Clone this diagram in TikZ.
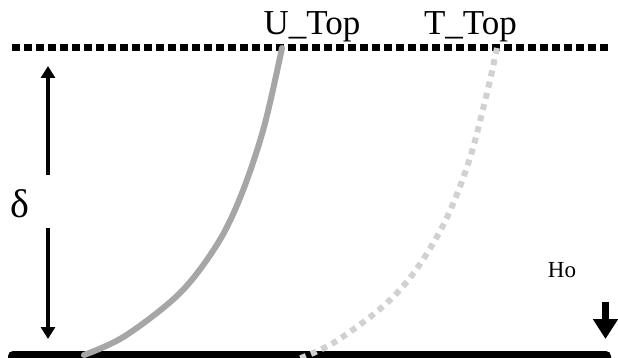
\documentclass[tikz,border=0pt]{standalone}
\usepackage{fontspec}
\setmainfont{Liberation Serif}
\usetikzlibrary{arrows.meta}
\begin{document}
\begin{tikzpicture}[x=1pt,y=-1pt,
  lbl/.style={inner sep=0pt,anchor=base,font=\fontsize{35}{40}\selectfont},
  dimarrow/.style={line width=3.3pt,-{Stealth[length=12pt,width=14pt,inset=0pt]}},
  ucurve/.style={line width=6pt,color=black!35,line cap=round},
  tcurve/.style={line width=6pt,color=black!18,dash pattern=on 6pt off 5.5pt},
  topline/.style={line width=7pt,dash pattern=on 7.5pt off 4.5pt}]
\useasboundingbox (0,0) rectangle (618,358);
\begin{scope}
\clip (0,0) rectangle (618,358);
\fill[black,rounded corners=5pt] (8,351) rectangle (611,372);
\end{scope}
\draw[topline] (12,48) -- (612,48);
\node[lbl] (utop) at (312,35) {U\_Top};
\node[lbl] (ttop) at (470.5,35) {T\_Top};
\node[inner sep=0pt,anchor=base,font=\fontsize{23}{26}\selectfont] (ho) at (562,277) {Ho};
\node[inner sep=0pt,anchor=base,font=\fontsize{40}{44}\selectfont] (delta) at (20,217) {δ};
\coordinate (a1s) at (48,175);
\coordinate (a1e) at (48,66);
\coordinate (a2s) at (48,228);
\coordinate (a2e) at (48,339);
\draw[dimarrow] (a1s) -- (a1e);
\draw[dimarrow] (a2s) -- (a2e);
\coordinate (h1) at (605.5,302);
\coordinate (h2) at (605.5,339);
\draw[line width=7.5pt,-{Triangle[length=20pt,width=24pt]}] (h1) -- (h2);
\draw[ucurve] plot[smooth,tension=0.55] coordinates {(282,48) (264,127) (242,193) (218,243) (180,293) (125,336) (84,355)};
\draw[tcurve] plot[smooth,tension=0.6] coordinates {(497,48) (486,97) (467,167) (439,233) (397,293) (338,340) (298,359)};
\end{tikzpicture}
\end{document}
